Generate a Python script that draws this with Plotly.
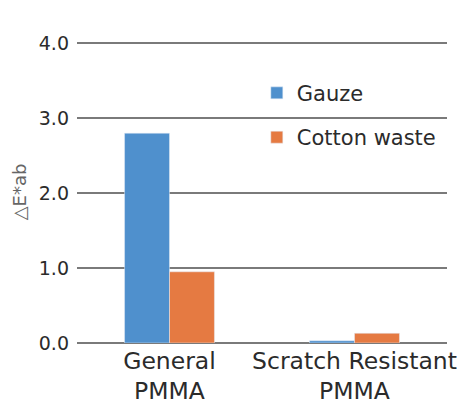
import plotly.graph_objects as go

categories = ["General<br>PMMA", "Scratch Resistant<br>PMMA"]
gauze = [2.80, 0.03]
cotton_waste = [0.95, 0.13]
y_ticks = [0, 1, 2, 3, 4]
y_ticklabels = ["0.0", "1.0", "2.0", "3.0", "4.0"]

FONT = "DejaVu Sans, sans-serif"
GRID = "#7a7a7a"
TEXT = "#2b2b2b"

fig = go.Figure()
fig.add_trace(go.Bar(x=categories, y=gauze, name="Gauze", marker_color="#4f90cd",
                     legendgroup="g1"))
fig.add_trace(go.Bar(x=categories, y=cotton_waste, name="Cotton waste", marker_color="#e57a42",
                     legendgroup="g2"))

# page body has an 8px default margin, so the figure is sized/positioned to compensate
fig.update_layout(
    width=457, height=395,
    margin=dict(l=69, r=18, t=33, b=60, autoexpand=False),
    paper_bgcolor="white", plot_bgcolor="white",
    barmode="group", bargap=0.514, bargroupgap=0,
    font=dict(family=FONT, color=TEXT, size=18),
    showlegend=True,
    legend=dict(x=0.486, y=0.895, xanchor="left", yanchor="top",
                bgcolor="rgba(0,0,0,0)", font=dict(size=21, color=TEXT),
                tracegroupgap=14, traceorder="grouped"),
    xaxis=dict(showgrid=False, showline=False, ticks="", automargin=False,
               ticklabelstandoff=1, tickfont=dict(size=23.5, color=TEXT)),
    yaxis=dict(range=[0, 4.03], tickvals=y_ticks, ticktext=y_ticklabels, showgrid=True,
               gridcolor=GRID, gridwidth=2, zeroline=True, zerolinecolor=GRID, zerolinewidth=2,
               ticks="", ticklabelstandoff=7, automargin=False,
               tickfont=dict(size=19, color=TEXT),
               title=dict(text="△E*ab", font=dict(size=18, color="#666666"), standoff=7)),
)

fig.write_html("out.html")
